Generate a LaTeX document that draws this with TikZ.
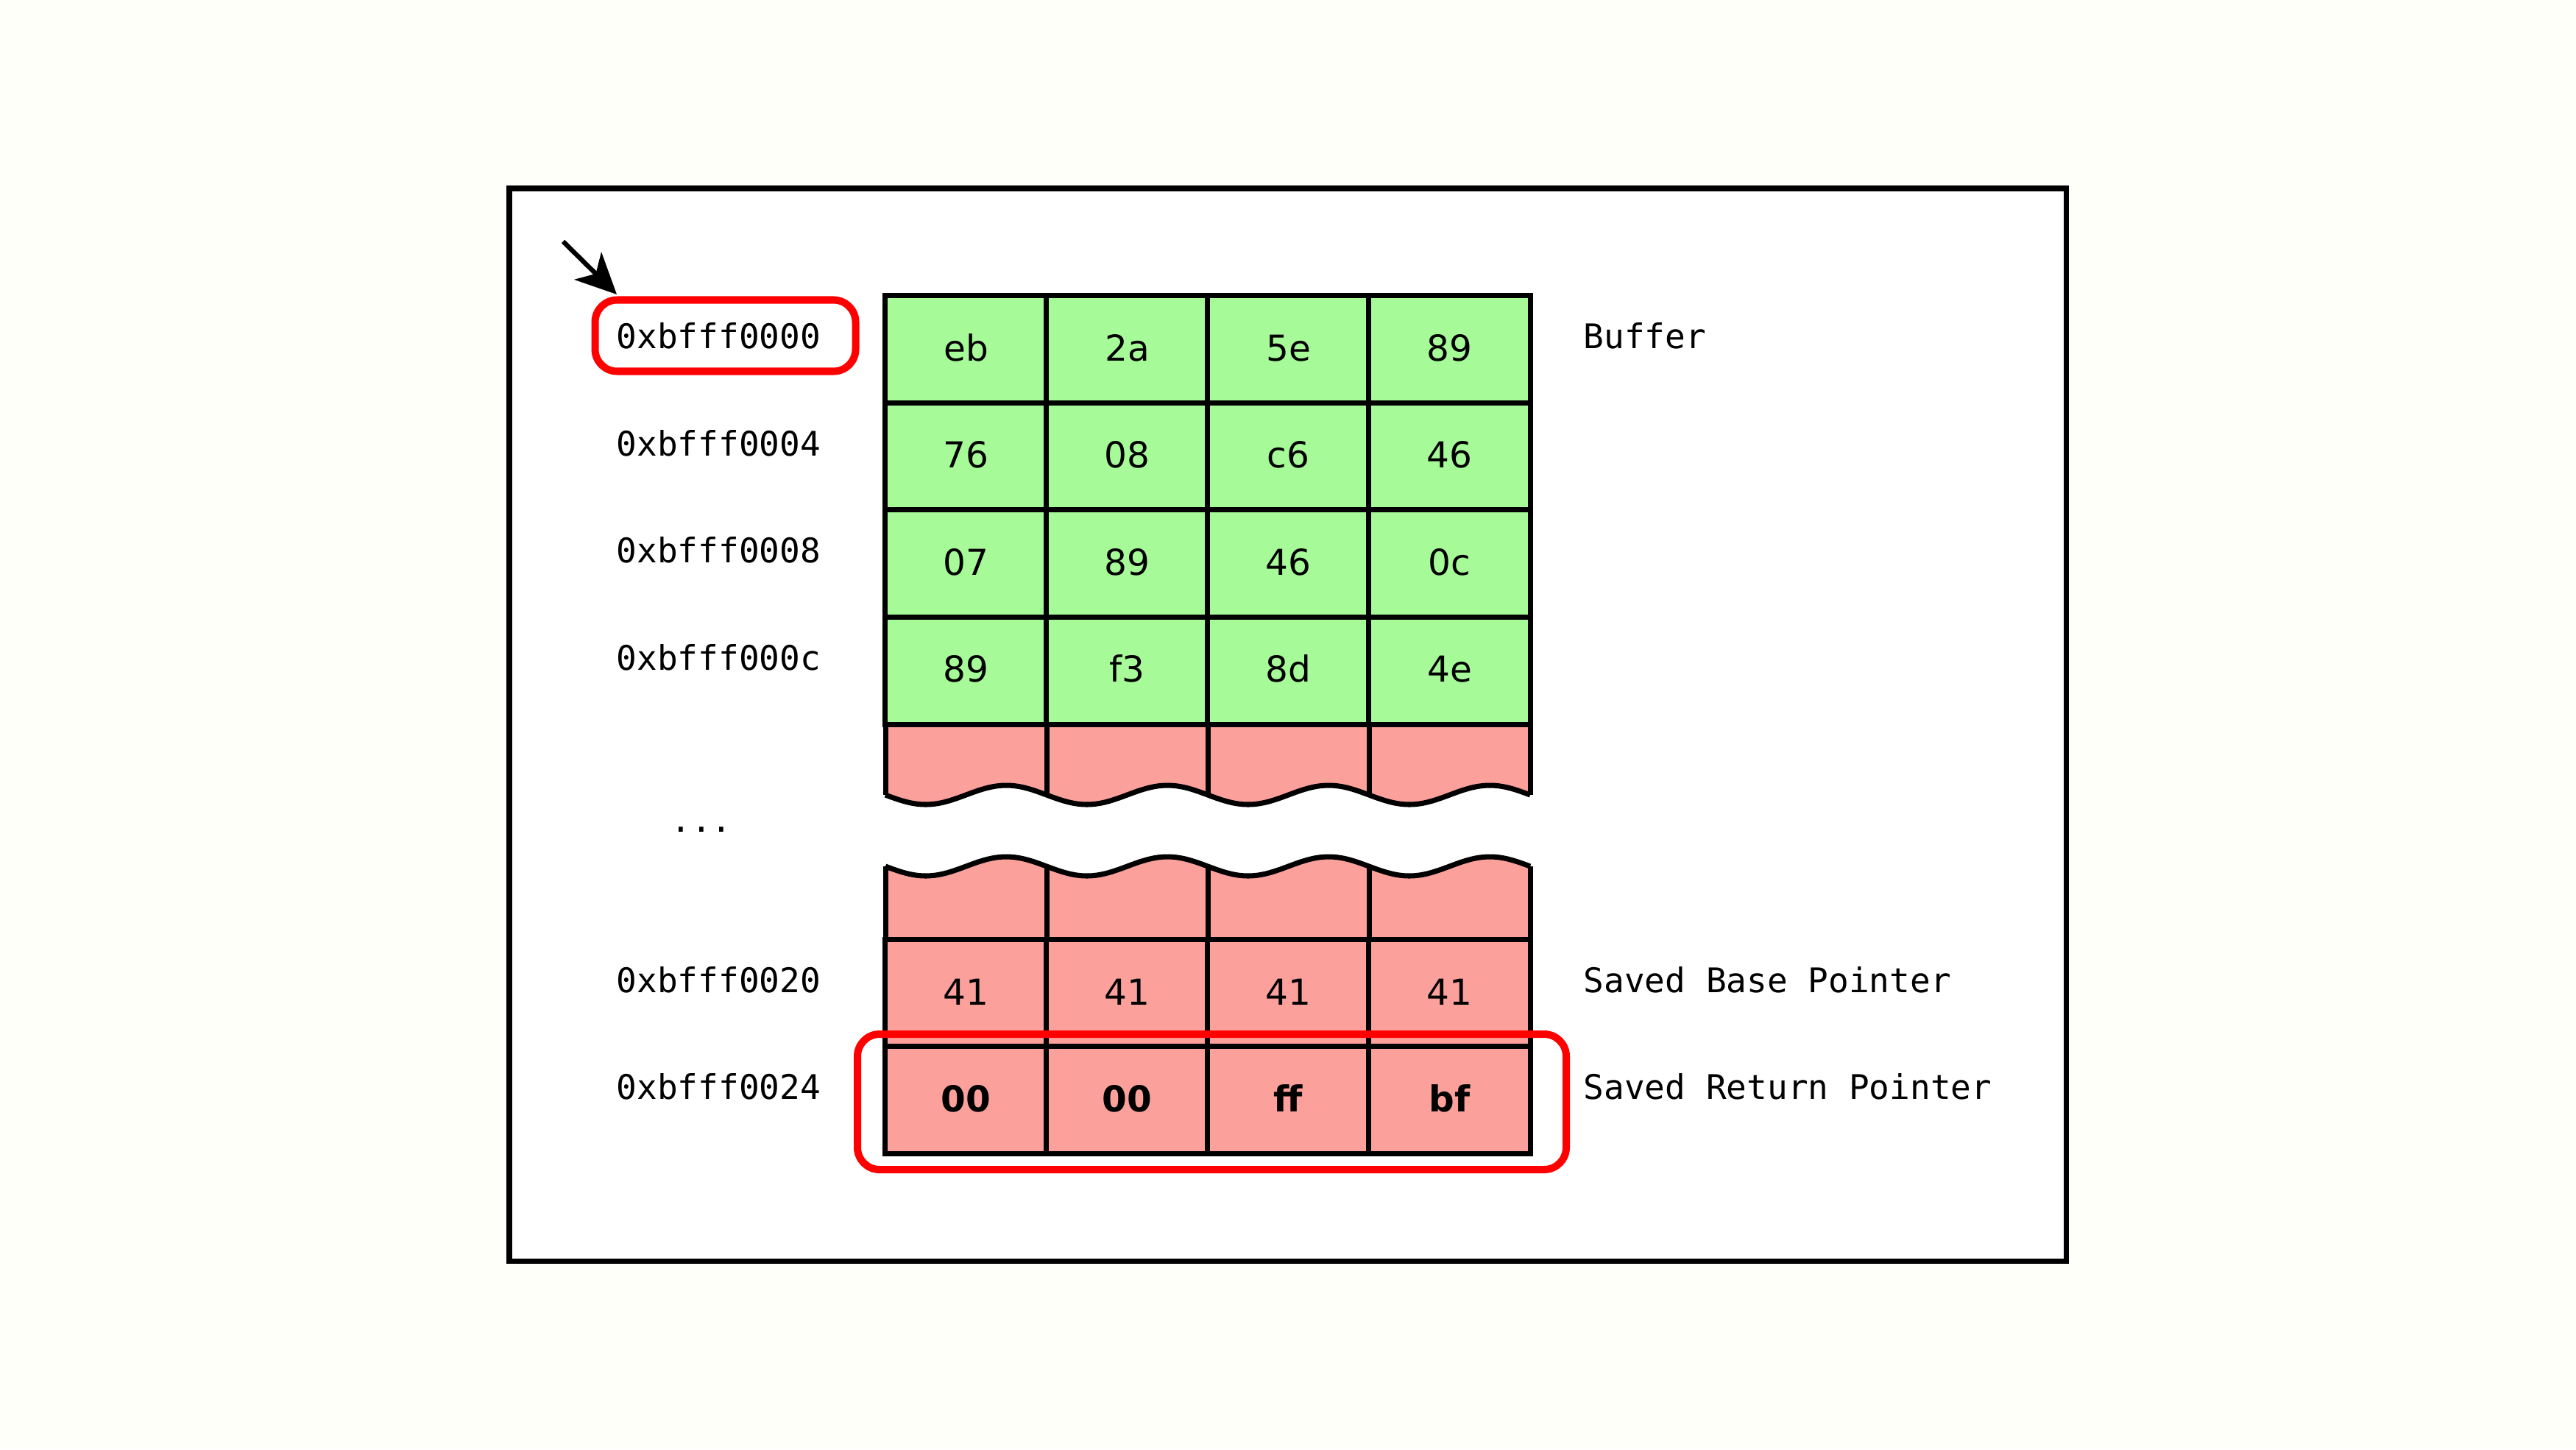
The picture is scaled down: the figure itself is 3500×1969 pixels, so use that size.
\documentclass[tikz,border=0pt]{standalone}
\usepackage{fontspec}
\setmainfont{DejaVu Sans}
\setmonofont{DejaVu Sans Mono}
\usetikzlibrary{arrows.meta,positioning,calc}

\definecolor{paper}{RGB}{253,255,248}
\definecolor{bufgreen}{RGB}{166,251,152}
\definecolor{ovred}{RGB}{252,160,155}
\definecolor{markred}{RGB}{255,0,0}

\begin{document}
\begin{tikzpicture}[
    x=0.01cm, y=-0.01cm,
    cell/.style={draw, line width=2pt, minimum width=2.19cm, minimum height=1.455cm, inner sep=0pt, text height=0.31cm, text depth=0pt, font=\fontsize{13.8}{16}\selectfont},
    addr/.style={inner sep=0pt, font=\ttfamily\fontsize{13.1}{15}\selectfont},
    markbox/.style={draw=markred, line width=2.85pt, rounded corners=0.3cm},
    gridline/.style={line width=2pt},
    arrow/.style={-{Stealth[length=0.55cm, width=0.52cm, inset=0.15cm]}, line width=1.8pt}
]

% Page and frame
\fill[paper] (0,0) rectangle (3500,1969);
\useasboundingbox (0,0) rectangle (3500,1969);
\draw[line width=2pt, fill=white] (692,256) rectangle (2807.5,1713.5);

% Torn part below the buffer
\fill[ovred] (1203,984) -- (1203,1080)
    \foreach \c in {0,...,3} {sin ++(54.75,13) cos ++(54.75,-13) sin ++(54.75,-13) cos ++(54.75,13)}
    -- (2078,984) -- cycle;
\foreach \c in {0,...,4}
    \draw[gridline] ({1203+219*\c},984) -- ({1203+219*\c},1080);
\draw[gridline] (1203,1080)
    \foreach \c in {0,...,3} {sin ++(54.75,13) cos ++(54.75,-13) sin ++(54.75,-13) cos ++(54.75,13)};

% Torn part above the saved pointers
\fill[ovred] (1203,1277) -- (1203,1177)
    \foreach \c in {0,...,3} {sin ++(54.75,13) cos ++(54.75,-13) sin ++(54.75,-13) cos ++(54.75,13)}
    -- (2078,1277) -- cycle;
\foreach \c in {0,...,4}
    \draw[gridline] ({1203+219*\c},1177) -- ({1203+219*\c},1277);
\draw[gridline] (1203,1177)
    \foreach \c in {0,...,3} {sin ++(54.75,13) cos ++(54.75,-13) sin ++(54.75,-13) cos ++(54.75,13)};

% Buffer rows
\foreach \vals [count=\r from 0] in {{eb,2a,5e,89},{76,08,c6,46},{07,89,46,0c},{89,f3,8d,4e}} {
    \foreach \v [count=\c from 0] in \vals
        \node[cell, fill=bufgreen] (buf-\r-\c) at ({1312.5+219*\c},{474.75+145.5*\r}) {\v};
}

% Saved base pointer and saved return pointer
\foreach \v [count=\c from 0] in {41,41,41,41}
    \node[cell, fill=ovred] (sbp-\c) at ({1312.5+219*\c},1349.5) {\v};
\foreach \v [count=\c from 0] in {00,00,ff,bf}
    \node[cell, fill=ovred, font=\bfseries\fontsize{13.8}{16}\selectfont] (sret-\c) at ({1312.5+219*\c},1494.5) {\v};

% Addresses
\foreach \a [count=\r from 0] in {0000,0004,0008,000c}
    \node[addr, anchor=base west] (addr-\r) at (837,{473.75+145.5*\r}) {0xbfff\a};
\node[addr, anchor=base] (dots) at (953,1130) {...};
\node[addr, anchor=base west] (addr-sbp) at (837,1348.5) {0xbfff0020};
\node[addr, anchor=base west] (addr-sret) at (837,1493.5) {0xbfff0024};

% Labels
\node[addr, anchor=base west] (buflabel) at (2151,473.75) {Buffer};
\node[addr, anchor=base west] (sbplabel) at (2151,1348.5) {Saved Base Pointer};
\node[addr, anchor=base west] (sretlabel) at (2151,1493.5) {Saved Return Pointer};

% Highlights
\draw[markbox] (808.5,407.5) rectangle (1162.5,504.5);
\draw[markbox] (1165,1405) rectangle (2128,1589);

% Pointer
\coordinate (ptr) at (765,328);
\coordinate (ptrtip) at (838,400);
\draw[arrow] (ptr) -- (ptrtip);

\end{tikzpicture}
\end{document}
